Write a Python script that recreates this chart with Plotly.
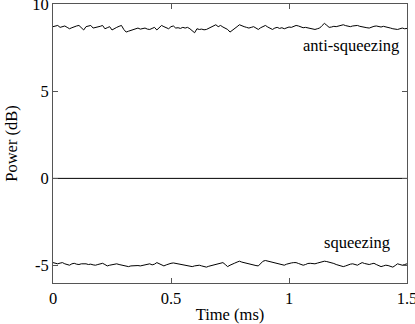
import numpy as np
import plotly.graph_objects as go

# Time samples (ms)
time_ms = np.round(np.arange(0, 1.501, 0.01), 2)

# Anti-squeezing trace (dB)
anti_squeezing = [
    8.70, 8.74, 8.77, 8.66, 8.70, 8.74, 8.66, 8.58, 8.64, 8.70,
    8.74, 8.77, 8.66, 8.51, 8.70, 8.74, 8.77, 8.62, 8.64, 8.66,
    8.72, 8.77, 8.58, 8.64, 8.70, 8.51, 8.60, 8.66, 8.72, 8.77,
    8.54, 8.39, 8.44, 8.48, 8.51, 8.58, 8.62, 8.56, 8.58, 8.62,
    8.56, 8.54, 8.60, 8.66, 8.51, 8.64, 8.77, 8.70, 8.62, 8.58,
    8.70, 8.74, 8.62, 8.64, 8.60, 8.66, 8.62, 8.66, 8.58, 8.46,
    8.35, 8.58, 8.54, 8.56, 8.52, 8.54, 8.60, 8.66, 8.74, 8.81,
    8.70, 8.77, 8.68, 8.60, 8.54, 8.39, 8.48, 8.58, 8.70, 8.81,
    8.74, 8.70, 8.66, 8.62, 8.66, 8.70, 8.62, 8.54, 8.64, 8.70,
    8.77, 8.68, 8.60, 8.54, 8.62, 8.66, 8.60, 8.64, 8.58, 8.64,
    8.68, 8.66, 8.72, 8.77, 8.74, 8.68, 8.64, 8.66, 8.62, 8.58,
    8.56, 8.54, 8.58, 8.62, 8.76, 8.89, 8.78, 8.66, 8.68, 8.72,
    8.70, 8.74, 8.78, 8.81, 8.76, 8.72, 8.70, 8.74, 8.77, 8.77,
    8.72, 8.68, 8.66, 8.64, 8.62, 8.68, 8.72, 8.74, 8.70, 8.68,
    8.72, 8.70, 8.66, 8.62, 8.58, 8.56, 8.54, 8.58, 8.62, 8.58,
    8.60,
]

# Squeezing trace (dB)
squeezing = [
    -4.83, -4.86, -4.90, -4.86, -4.83, -4.90, -4.96, -4.98, -4.90, -4.87,
    -4.92, -4.94, -4.90, -4.88, -4.90, -4.94, -4.92, -4.96, -4.98, -4.94,
    -4.90, -4.87, -4.94, -5.02, -4.98, -4.94, -4.92, -4.90, -4.94, -4.98,
    -5.02, -5.04, -5.06, -5.02, -5.00, -4.98, -5.00, -5.02, -4.98, -4.94,
    -4.92, -4.90, -4.96, -4.92, -4.83, -4.90, -4.98, -5.02, -4.96, -4.90,
    -4.87, -4.85, -4.88, -4.90, -4.90, -4.94, -4.98, -5.02, -5.04, -5.06,
    -5.02, -4.98, -4.98, -5.02, -5.06, -5.09, -5.04, -5.00, -4.98, -4.94,
    -4.90, -4.86, -4.83, -4.94, -5.06, -4.98, -4.90, -4.86, -4.80, -4.75,
    -4.80, -4.84, -4.87, -4.90, -4.94, -4.98, -5.00, -5.02, -4.88, -4.75,
    -4.71, -4.74, -4.78, -4.83, -4.85, -4.88, -4.90, -4.94, -4.98, -4.92,
    -4.87, -4.85, -4.83, -4.83, -4.88, -4.94, -4.98, -4.94, -4.88, -4.87,
    -4.90, -4.90, -4.86, -4.82, -4.78, -4.75, -4.77, -4.80, -4.83, -4.88,
    -4.94, -4.98, -5.02, -5.06, -5.02, -4.96, -4.92, -4.90, -4.94, -4.98,
    -4.90, -4.83, -4.88, -4.92, -4.94, -4.90, -4.87, -4.94, -5.02, -5.06,
    -5.02, -4.98, -5.00, -5.04, -5.09, -5.00, -4.90, -4.94, -4.98, -4.94,
    -4.90,
]

# Reference (shot noise) level
ref_time = [0, 1.5]
ref_level = [0, 0]

x_ticks = [0, 0.5, 1, 1.5]
x_labels = ["0", "0.5", "1", "1.5"]
y_ticks = [-5, 0, 5, 10]
y_labels = ["-5", "0", "5", "10"]

font_family = "Liberation Serif"
font_size = 16.5
line_style = dict(color="black", width=1)

fig = go.Figure()
fig.add_trace(go.Scatter(x=time_ms, y=anti_squeezing, mode="lines", line=line_style))
fig.add_trace(go.Scatter(x=ref_time, y=ref_level, mode="lines", line=line_style))
fig.add_trace(go.Scatter(x=time_ms, y=squeezing, mode="lines", line=line_style))

fig.add_annotation(x=1.263, y=7.6, text="anti-squeezing", showarrow=False,
                   font=dict(size=font_size, family=font_family, color="black"))
fig.add_annotation(x=1.29, y=-3.68, text="squeezing", showarrow=False,
                   font=dict(size=font_size, family=font_family, color="black"))

axis_common = dict(
    showline=True, linecolor="#555555", linewidth=1, mirror="ticks",
    ticks="inside", ticklen=5, tickcolor="#555555", showgrid=False, zeroline=False,
    ticklabeloverflow="allow", automargin=False,
    tickfont=dict(size=font_size, family=font_family, color="black"),
)

fig.update_layout(
    width=415, height=324,
    margin=dict(l=53, r=8, t=4, b=41),
    plot_bgcolor="white", paper_bgcolor="white",
    showlegend=False,
    font=dict(family=font_family, color="black"),
    xaxis=dict(range=[0, 1.5], tickvals=x_ticks, ticktext=x_labels,
               title=dict(text="Time (ms)", font=dict(size=font_size, family=font_family), standoff=4),
               **axis_common),
    yaxis=dict(range=[-6, 10], tickvals=y_ticks, ticktext=y_labels,
               title=dict(text="Power (dB)", font=dict(size=font_size, family=font_family), standoff=10),
               **axis_common),
)

fig.write_html("out.html", config={"displayModeBar": False},
               post_script="document.body.style.margin='0';")
